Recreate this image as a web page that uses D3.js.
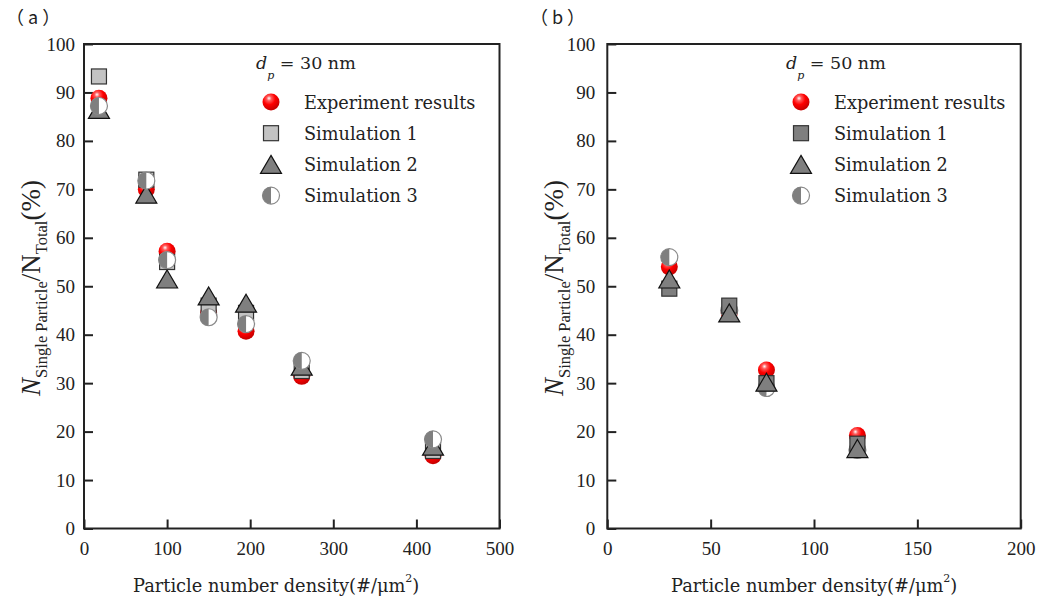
<!DOCTYPE html>
<html>
<head>
<meta charset="utf-8">
<script src="https://cdn.jsdelivr.net/npm/d3@7"></script>
<style>
  body { margin: 0; background: #fff; }
  svg text { fill: #222; }
</style>
</head>
<body>
<div class="chart"></div>
<script>
// ---- data ----
var seriesNames = ["Experiment results", "Simulation 1", "Simulation 2", "Simulation 3"];

// panel (a), dp = 30 nm
var xA = [18, 75, 100, 150, 195, 262, 420];
var expA = [88.8, 70, 57.2, 44.5, 40.7, 31.4, 15];
var sim1A = [93.3, 72, 55, 46, 44.5, 32.5, 16];
var sim2A = [86.5, 69, 51.5, 48, 46.5, 33.5, 17];
var sim3A = [87.2, 71.8, 55.4, 43.6, 42.2, 34.6, 18.4];
var xTicksA = [0, 100, 200, 300, 400, 500];

// panel (b), dp = 50 nm
var xB = [30, 59, 77, 121];
var expB = [54, 44.5, 32.7, 19.2];
var sim1B = [49.5, 46, 30, 17.5];
var sim2B = [51.5, 44.5, 30.2, 16.5];
var sim3B = [56, 45, 29, 16.2];
var xTicksB = [0, 50, 100, 150, 200];

var yTicks = [0, 10, 20, 30, 40, 50, 60, 70, 80, 90, 100];

var svgWidth = 1051;
var svgHeight = 603;

var svg = d3.select(".chart")
  .append("svg")
  .attr("width", svgWidth)
  .attr("height", svgHeight);

// sphere look for the experiment markers
var defs = svg.append("defs");
var grad = defs.append("radialGradient")
  .attr("id", "ball")
  .attr("cx", "40%").attr("cy", "32%").attr("r", "65%")
  .attr("fx", "38%").attr("fy", "28%");
grad.append("stop").attr("offset", "0%").attr("stop-color", "#ffffff");
grad.append("stop").attr("offset", "22%").attr("stop-color", "#ff5a5a");
grad.append("stop").attr("offset", "55%").attr("stop-color", "#ff0000");
grad.append("stop").attr("offset", "100%").attr("stop-color", "#c80000");

// draw one marker of a given kind centred at (cx, cy)
function drawMarker(g, kind, cx, cy, sqFill) {
  if (kind === 0) {
    g.append("circle").attr("cx", cx).attr("cy", cy).attr("r", 8.5)
      .attr("fill", "url(#ball)");
  } else if (kind === 1) {
    g.append("rect").attr("x", cx - 7.5).attr("y", cy - 7.5)
      .attr("width", 15).attr("height", 15)
      .attr("fill", sqFill).attr("stroke", "#333").attr("stroke-width", 1.2);
  } else if (kind === 2) {
    var w = 10.5, h = 9;
    g.append("path")
      .attr("d", `M${cx},${cy - h} L${cx + w},${cy + h} L${cx - w},${cy + h} Z`)
      .attr("fill", "#7f7f7f").attr("stroke", "#111").attr("stroke-width", 1.2)
      .attr("stroke-linejoin", "miter");
  } else {
    var r = 8.5;
    g.append("circle").attr("cx", cx).attr("cy", cy).attr("r", r)
      .attr("fill", "#fff").attr("stroke", "#8a8a8a").attr("stroke-width", 1.2);
    g.append("path")
      .attr("d", `M${cx},${cy - r} A${r},${r} 0 0 0 ${cx},${cy + r} Z`)
      .attr("fill", "#7f7f7f");
  }
}

function drawPanel(opt) {
  var x = d3.scaleLinear().domain(opt.xDomain).range([opt.left, opt.right]);
  var y = d3.scaleLinear().domain([0, 100]).range([opt.bottom, opt.top]);
  var g = svg.append("g");

  // frame
  g.append("rect")
    .attr("x", opt.left).attr("y", opt.top)
    .attr("width", opt.right - opt.left).attr("height", opt.bottom - opt.top)
    .attr("fill", "none").attr("stroke", "#222").attr("stroke-width", 2);

  // axes, ticks pointing inward
  var bottomAxis = d3.axisBottom(x).tickValues(opt.xTicks)
    .tickSizeInner(-9).tickSizeOuter(0).tickPadding(13).tickFormat(d3.format("d"));
  var leftAxis = d3.axisLeft(y).tickValues(yTicks)
    .tickSizeInner(-9).tickSizeOuter(0).tickPadding(opt.yPad).tickFormat(d3.format("d"));

  var gx = g.append("g").attr("transform", `translate(0, ${opt.bottom})`).call(bottomAxis);
  var gy = g.append("g").attr("transform", `translate(${opt.left}, 0)`).call(leftAxis);
  [gx, gy].forEach(function (a) {
    a.select(".domain").remove();
    a.selectAll(".tick line").attr("stroke", "#222").attr("stroke-width", 2);
    a.selectAll(".tick text")
      .style("font-family", "'Liberation Serif', serif")
      .style("font-size", "19px").attr("fill", "#222");
  });

  // points, drawn series by series
  opt.order.forEach(function (k) {
    var vals = opt.series[k];
    var sg = g.append("g");
    vals.forEach(function (v, i) {
      drawMarker(sg, k, x(opt.xs[i]), y(v), opt.sqFill);
    });
  });

  // legend
  var lg = g.append("g");
  var dpt = lg.append("text").attr("x", opt.legX).attr("y", 69)
    .style("font-family", "'DejaVu Serif', serif").style("font-size", "17.5px");
  dpt.append("tspan").style("font-style", "italic").text("d");
  dpt.append("tspan").style("font-style", "italic").style("font-size", "11px")
    .attr("dy", 10).text("p");
  dpt.append("tspan").attr("dy", -10).text(" = " + opt.dp + " nm");

  seriesNames.forEach(function (name, i) {
    var cy = 102 + i * 31.2;
    drawMarker(lg, i, opt.legX + 15, cy, opt.sqFill);
    lg.append("text").attr("x", opt.legX + 48).attr("y", cy + 6.5)
      .style("font-family", "'DejaVu Serif', serif").style("font-size", "17.7px")
      .text(name);
  });

  // x label
  var xl = g.append("text").attr("x", opt.xLabX).attr("y", 592)
    .style("font-family", "'DejaVu Serif', serif").style("font-size", "17.8px");
  xl.append("tspan").text("Particle number density(#/\u03bcm");
  xl.append("tspan").attr("dy", -10).style("font-size", "11px").text("2");
  xl.append("tspan").attr("dy", 10).text(")");

  // y label
  var yl = g.append("text")
    .attr("transform", `translate(${opt.yLabX}, 288) rotate(-90)`)
    .attr("text-anchor", "middle")
    .style("font-family", "'Liberation Serif', serif").style("font-size", "27px");
  yl.append("tspan").style("font-style", "italic").text("N");
  yl.append("tspan").attr("dy", 7).style("font-size", "16.5px").text("Single Particle");
  yl.append("tspan").attr("dy", -7).text("/N");
  yl.append("tspan").attr("dy", 7).style("font-size", "16.5px").text("Total");
  yl.append("tspan").attr("dy", -7).text("(%)");

  // panel tag
  g.append("text").attr("x", opt.tagX).attr("y", 24)
    .style("font-family", "'Noto Sans CJK SC', sans-serif").style("font-size", "18px")
    .style("letter-spacing", "4px")
    .text(opt.tag);
}

drawPanel({
  left: 84, right: 499.5, top: 44, bottom: 528.5,
  xDomain: [0, 500], xTicks: xTicksA, yPad: 9,
  xs: xA, series: [expA, sim1A, sim2A, sim3A], order: [0, 1, 2, 3],
  sqFill: "#c3c3c3", legX: 256, dp: 30, xLabX: 133, yLabX: 40, tagX: 6, tag: "\uff08a\uff09"
});

drawPanel({
  left: 607.3, right: 1020.7, top: 44, bottom: 528.5,
  xDomain: [0, 200], xTicks: xTicksB, yPad: 12,
  xs: xB, series: [expB, sim1B, sim2B, sim3B], order: [0, 3, 1, 2],
  sqFill: "#7f7f7f", legX: 786, dp: 50, xLabX: 671, yLabX: 563, tagX: 530, tag: "\uff08b\uff09"
});
</script>
</body>
</html>
